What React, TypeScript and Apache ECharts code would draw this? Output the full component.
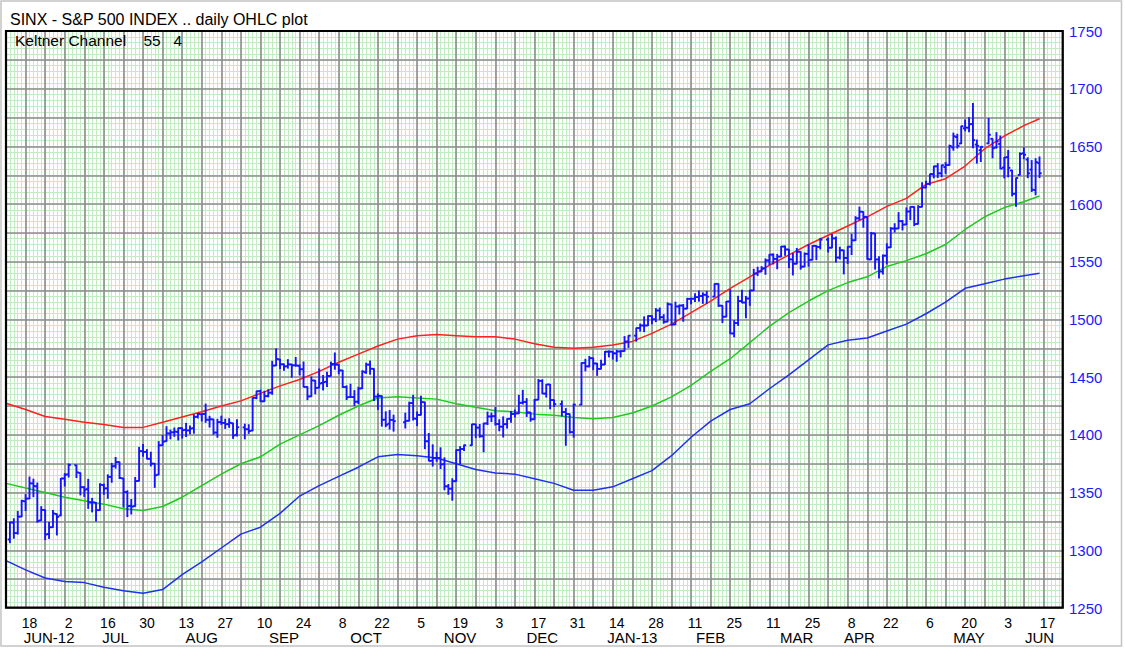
import React, { useEffect, useRef } from 'react';
import * as echarts from 'echarts';

const TITLE = 'SINX - S&P 500 INDEX .. daily OHLC plot';
const SUBTITLE = 'Keltner Channel\u00a0\u00a0\u00a0 55\u00a0\u00a0\u00a04';
const AXIS_START = '2012-06-11';
const AXIS_DAYS = 271;
const Y_MIN = 1250;
const Y_MAX = 1750;
const Y_LABEL_STEP = 50;

// [day, open, high, low, close]
const jun12 = [[12,1309.4,1324.3,1306.6,1324.2],[13,1324.0,1327.3,1310.5,1314.9],[14,1314.9,1333.7,1314.1,1329.1],[15,1329.2,1343.3,1329.2,1342.8],[18,1342.4,1348.2,1334.5,1344.8],[19,1344.8,1363.5,1344.8,1358.0],[20,1358.0,1361.6,1346.5,1355.7],[21,1355.4,1358.3,1324.4,1325.5],[22,1325.9,1337.8,1325.9,1335.0],[25,1334.9,1334.9,1309.3,1313.7],[26,1314.1,1324.2,1310.3,1320.0],[27,1320.0,1334.4,1320.0,1331.9],[28,1331.5,1331.5,1313.3,1329.0],[29,1330.1,1362.2,1330.1,1362.2]];
const jul12 = [[2,1362.3,1366.4,1355.7,1365.5],[3,1365.8,1374.8,1363.5,1374.0],[5,1373.7,1373.9,1363.0,1367.6],[6,1367.1,1367.1,1348.0,1354.7],[9,1354.7,1354.9,1346.7,1352.5],[10,1353.0,1361.5,1336.3,1341.5],[11,1341.4,1345.0,1333.3,1341.5],[12,1341.3,1341.3,1325.4,1334.8],[13,1334.8,1357.7,1334.8,1356.8],[16,1356.5,1357.3,1348.5,1353.6],[17,1353.7,1365.4,1345.1,1363.7],[18,1363.6,1375.3,1359.0,1372.8],[19,1373.0,1380.4,1371.2,1376.5],[20,1376.5,1376.5,1362.2,1362.7],[23,1362.3,1362.3,1337.6,1350.5],[24,1350.5,1351.5,1329.2,1338.3],[25,1338.4,1344.0,1331.5,1337.9],[26,1338.2,1363.1,1338.2,1360.0],[27,1360.1,1389.2,1360.1,1386.0],[30,1385.9,1391.7,1381.4,1385.3],[31,1385.3,1387.2,1379.2,1379.3]];
const aug12 = [[1,1379.3,1385.0,1373.1,1375.1],[2,1375.1,1375.1,1354.6,1365.0],[3,1365.5,1394.2,1365.5,1391.0],[6,1391.0,1399.6,1391.0,1394.2],[7,1394.5,1407.1,1394.5,1401.4],[8,1401.2,1404.1,1396.6,1402.2],[9,1402.3,1406.0,1398.8,1402.8],[10,1402.6,1406.0,1395.6,1405.9],[13,1405.9,1405.9,1397.3,1404.1],[14,1404.4,1410.0,1398.6,1403.9],[15,1403.9,1407.7,1401.0,1405.5],[16,1405.8,1417.4,1401.5,1415.5],[17,1415.8,1418.7,1414.7,1418.2],[20,1417.9,1418.1,1412.1,1418.1],[21,1418.1,1426.7,1410.9,1413.2],[22,1413.1,1416.1,1406.8,1413.5],[23,1413.5,1413.5,1400.5,1402.1],[24,1402.0,1413.5,1398.0,1411.1],[27,1411.1,1416.2,1409.1,1410.4],[28,1410.4,1413.6,1405.6,1409.3],[29,1409.3,1414.0,1406.6,1410.5],[30,1410.1,1410.1,1397.0,1399.5],[31,1400.1,1413.1,1399.0,1406.6]];
const sep12 = [[4,1406.5,1409.3,1396.6,1404.9],[5,1404.9,1408.8,1401.3,1403.4],[6,1403.7,1432.1,1403.7,1432.1],[7,1432.1,1437.9,1431.4,1437.9],[10,1437.9,1438.7,1429.0,1429.1],[11,1429.1,1437.8,1429.1,1433.6],[12,1433.6,1439.2,1433.0,1436.6],[13,1436.6,1463.8,1435.2,1460.0],[14,1460.1,1474.5,1460.1,1465.8],[17,1465.4,1465.6,1457.6,1461.2],[18,1461.2,1461.5,1456.1,1459.3],[19,1459.5,1465.2,1457.9,1461.1],[20,1461.1,1461.2,1450.0,1460.3],[21,1460.3,1467.1,1459.5,1460.2],[24,1459.8,1460.7,1452.1,1456.9],[25,1456.9,1463.2,1441.6,1441.6],[26,1441.6,1441.6,1430.5,1433.3],[27,1433.4,1450.2,1433.4,1447.2],[28,1447.1,1447.1,1435.6,1440.7]];
const oct12 = [[1,1440.9,1457.1,1440.9,1444.5],[2,1445.0,1451.5,1439.0,1445.8],[3,1446.1,1454.3,1442.0,1451.0],[4,1451.1,1463.1,1451.1,1461.4],[5,1461.4,1471.0,1456.9,1460.9],[8,1460.9,1460.9,1453.1,1455.9],[9,1455.9,1455.9,1441.2,1441.5],[10,1441.5,1442.5,1430.6,1432.6],[11,1432.8,1443.9,1432.8,1432.8],[12,1432.8,1438.4,1425.5,1428.6],[15,1428.8,1441.3,1427.2,1440.1],[16,1440.3,1455.5,1440.3,1454.9],[17,1454.2,1462.2,1453.4,1460.9],[18,1460.9,1464.0,1452.6,1457.3],[19,1457.3,1457.3,1429.9,1433.2],[22,1433.2,1435.5,1422.1,1433.8],[23,1433.7,1433.7,1407.6,1413.1],[24,1413.2,1420.0,1407.1,1408.8],[25,1409.7,1421.1,1405.1,1413.0],[26,1413.0,1417.1,1403.3,1411.9],[31,1411.0,1418.8,1406.0,1412.2]];
const nov12 = [[1,1412.2,1428.4,1412.2,1427.6],[2,1427.6,1434.3,1412.9,1414.2],[5,1414.0,1419.9,1408.1,1417.3],[6,1417.3,1433.4,1417.3,1428.4],[7,1428.3,1428.3,1388.1,1394.5],[8,1394.5,1401.2,1377.5,1377.5],[9,1377.6,1391.4,1373.0,1379.9],[12,1379.9,1384.9,1377.2,1380.0],[13,1380.0,1388.8,1370.8,1374.5],[14,1374.6,1380.1,1352.5,1355.5],[15,1355.4,1357.0,1348.5,1353.3],[16,1353.4,1362.0,1343.4,1359.9],[19,1359.9,1386.9,1359.9,1386.9],[20,1386.8,1389.8,1374.8,1387.8],[21,1387.8,1391.3,1386.4,1391.0],[23,1391.0,1409.2,1391.0,1409.2],[26,1409.2,1409.2,1397.7,1406.3],[27,1406.3,1409.0,1398.0,1398.9],[28,1398.8,1410.0,1385.4,1409.9],[29,1410.0,1419.7,1409.0,1416.0],[30,1416.0,1418.9,1411.6,1416.2]];
const dec12 = [[3,1416.3,1423.7,1408.5,1409.5],[4,1409.5,1413.1,1403.6,1407.1],[5,1407.1,1415.6,1398.2,1409.3],[6,1409.4,1414.0,1405.9,1413.9],[7,1414.0,1420.3,1410.9,1418.1],[10,1418.1,1421.6,1415.6,1418.6],[11,1418.6,1434.3,1418.6,1427.8],[12,1427.8,1438.6,1426.8,1428.5],[13,1428.5,1431.4,1416.0,1419.5],[14,1419.5,1419.5,1411.9,1413.6],[17,1413.5,1430.7,1413.5,1430.4],[18,1430.5,1448.0,1430.5,1446.8],[19,1446.8,1447.8,1435.8,1435.8],[20,1435.8,1443.7,1432.8,1443.7],[21,1443.7,1443.7,1422.6,1430.2],[24,1430.2,1430.2,1424.7,1426.7],[26,1426.7,1429.4,1416.4,1419.8],[27,1419.8,1422.8,1391.0,1418.1],[28,1418.1,1418.1,1401.6,1402.4],[31,1402.4,1426.7,1398.1,1426.2]];
const jan13 = [[2,1426.2,1462.4,1426.2,1462.4],[3,1462.4,1465.5,1455.5,1459.4],[4,1459.4,1467.9,1459.0,1466.5],[7,1466.5,1466.5,1456.6,1461.9],[8,1461.9,1461.9,1451.6,1457.2],[9,1457.2,1464.7,1457.2,1461.0],[10,1461.0,1472.3,1461.0,1472.1],[11,1472.1,1472.8,1467.6,1472.1],[14,1472.1,1472.1,1465.7,1470.7],[15,1470.7,1473.3,1463.8,1472.3],[16,1472.3,1473.0,1467.6,1472.6],[17,1472.6,1485.2,1472.6,1480.9],[18,1480.9,1486.0,1475.8,1486.0],[22,1486.0,1492.6,1481.2,1492.6],[23,1492.6,1496.1,1489.9,1494.8],[24,1494.8,1502.3,1489.5,1494.8],[25,1494.8,1503.3,1494.8,1503.0],[28,1503.0,1503.2,1496.3,1500.2],[29,1500.2,1509.4,1498.1,1507.8],[30,1507.8,1509.9,1500.1,1502.0],[31,1502.0,1504.2,1496.8,1498.1]];
const feb13 = [[1,1498.1,1514.4,1498.1,1513.2],[4,1513.2,1513.2,1495.0,1495.7],[5,1495.7,1515.0,1495.7,1511.3],[6,1511.3,1512.5,1504.7,1512.1],[7,1512.1,1512.9,1498.5,1509.4],[8,1509.4,1518.3,1509.4,1517.9],[11,1517.9,1518.3,1513.6,1518.0],[12,1518.0,1522.3,1515.6,1519.4],[13,1519.4,1524.7,1515.9,1520.3],[14,1520.3,1523.1,1514.0,1521.4],[15,1521.4,1524.2,1514.1,1519.8],[19,1519.8,1530.9,1519.8,1530.9],[20,1530.9,1530.9,1511.4,1512.0],[21,1512.0,1512.0,1497.3,1502.4],[22,1502.4,1515.6,1502.4,1515.6],[25,1515.6,1525.8,1487.9,1487.9],[26,1487.9,1499.0,1485.0,1496.9],[27,1496.9,1520.1,1494.9,1516.0],[28,1516.0,1525.3,1514.5,1514.7]];
const mar13 = [[1,1514.7,1520.0,1501.5,1518.2],[4,1518.2,1525.3,1512.3,1525.2],[5,1525.2,1543.5,1525.2,1539.8],[6,1539.8,1545.3,1538.1,1541.5],[7,1541.5,1545.8,1541.5,1544.3],[8,1544.3,1552.5,1539.2,1551.2],[11,1551.2,1556.3,1547.4,1556.2],[12,1556.2,1556.8,1548.2,1552.5],[13,1552.5,1556.4,1544.0,1554.5],[14,1554.5,1563.3,1554.5,1563.2],[15,1563.2,1563.6,1555.7,1560.7],[18,1560.7,1560.7,1545.1,1552.1],[19,1552.1,1557.3,1538.6,1548.3],[20,1548.3,1561.6,1548.3,1558.7],[21,1558.7,1558.7,1543.6,1545.8],[22,1545.8,1557.7,1545.8,1556.9],[25,1556.9,1564.9,1546.2,1551.7],[26,1551.7,1564.0,1551.7,1563.8],[27,1563.8,1564.0,1551.9,1562.9],[28,1562.9,1570.3,1561.1,1569.2]];
const apr13 = [[1,1569.2,1570.6,1558.5,1562.2],[2,1562.2,1573.7,1562.2,1570.3],[3,1570.3,1571.5,1549.8,1553.7],[4,1553.7,1562.6,1552.5,1560.0],[5,1560.0,1560.0,1539.5,1553.3],[8,1553.3,1563.1,1548.6,1563.1],[9,1563.1,1573.9,1556.3,1568.6],[10,1568.6,1589.1,1568.6,1587.7],[11,1587.7,1597.4,1586.2,1593.4],[12,1593.3,1593.3,1580.0,1588.9],[15,1588.9,1588.9,1552.3,1552.4],[16,1552.0,1575.4,1552.0,1574.6],[17,1574.6,1574.6,1543.7,1552.0],[18,1552.0,1554.4,1536.0,1541.6],[19,1541.6,1555.9,1539.4,1555.3],[22,1555.3,1565.6,1548.2,1562.5],[23,1562.5,1579.6,1562.5,1578.8],[24,1578.8,1583.0,1575.8,1578.8],[25,1578.8,1592.6,1578.8,1585.2],[26,1585.2,1585.8,1577.6,1582.2],[29,1582.3,1596.7,1582.3,1593.6],[30,1593.6,1597.6,1586.5,1597.6]];
const may13 = [[1,1597.6,1597.6,1581.3,1582.7],[2,1582.8,1598.6,1582.8,1597.6],[3,1597.6,1618.5,1597.6,1614.4],[6,1614.4,1619.8,1614.2,1617.5],[7,1617.6,1626.0,1616.6,1626.0],[8,1626.0,1632.8,1622.7,1632.7],[9,1632.7,1635.0,1623.1,1626.7],[10,1626.7,1633.7,1623.7,1633.7],[13,1632.1,1636.0,1626.7,1633.8],[14,1633.8,1651.1,1633.8,1650.3],[15,1649.1,1661.5,1646.7,1658.8],[16,1658.1,1660.5,1648.6,1650.5],[17,1652.5,1667.5,1652.5,1667.5],[20,1665.7,1672.8,1663.5,1666.3],[21,1666.2,1674.9,1662.7,1669.2],[22,1669.4,1687.2,1648.9,1655.4],[23,1651.6,1655.5,1635.5,1650.5],[24,1646.7,1649.8,1636.9,1649.6],[28,1652.6,1674.2,1652.6,1660.1],[29,1656.6,1656.6,1640.1,1648.4],[30,1649.1,1661.9,1648.6,1654.4],[31,1652.1,1659.0,1630.7,1630.7]];
const jun13 = [[3,1631.7,1640.4,1622.7,1640.4],[4,1640.7,1646.5,1623.6,1631.4],[5,1629.1,1629.3,1607.1,1608.9],[6,1609.0,1622.6,1598.2,1622.6],[7,1625.3,1644.4,1625.3,1643.4],[10,1644.0,1648.7,1639.3,1642.8],[11,1638.6,1640.1,1622.9,1626.7],[12,1629.9,1637.7,1610.9,1612.5],[13,1612.2,1639.3,1608.1,1636.4],[14,1635.5,1640.8,1623.0,1626.7]];

const ohlcMonths: [string, number[][]][] = [
  ['2012-06', jun12], ['2012-07', jul12], ['2012-08', aug12], ['2012-09', sep12],
  ['2012-10', oct12], ['2012-11', nov12], ['2012-12', dec12], ['2013-01', jan13],
  ['2013-02', feb13], ['2013-03', mar13], ['2013-04', apr13], ['2013-05', may13],
  ['2013-06', jun13],
];

// Keltner channel lines, read at each Monday slot and at the last bar
const bandDates = [
  '2012-06-11','2012-06-18','2012-06-25','2012-07-02','2012-07-09','2012-07-16','2012-07-23','2012-07-30',
  '2012-08-06','2012-08-13','2012-08-20','2012-08-27','2012-09-03','2012-09-10','2012-09-17','2012-09-24',
  '2012-10-01','2012-10-08','2012-10-15','2012-10-22','2012-10-29','2012-11-05','2012-11-12','2012-11-19',
  '2012-11-26','2012-12-03','2012-12-10','2012-12-17','2012-12-24','2012-12-31','2013-01-07','2013-01-14',
  '2013-01-21','2013-01-28','2013-02-04','2013-02-11','2013-02-18','2013-02-25','2013-03-04','2013-03-11',
  '2013-03-18','2013-03-25','2013-04-01','2013-04-08','2013-04-15','2013-04-22','2013-04-29','2013-05-06',
  '2013-05-13','2013-05-20','2013-05-27','2013-06-03','2013-06-10','2013-06-14',
];
const upperBand = [1427.5,1422,1416,1413.5,1411,1409,1406.5,1406.5,1411,1415.5,1420,1425,1429.5,1436,1442.5,1448,1455,1463,1470,1477,1483,1486,1487,1486,1485,1485,1483,1479,1476,1475,1476,1478,1481,1488,1496,1506,1516,1527,1537,1547,1556,1565,1573,1581,1589,1598,1605,1617,1622,1633,1648,1659,1668,1674];
const middleBand = [1358,1354,1350,1346,1343,1340,1336,1334.5,1338,1346,1356,1366,1375,1381,1392,1400,1408,1417,1425,1432,1433,1432,1431,1427,1424,1421,1420,1418,1417,1415,1414,1415,1419,1425,1433,1443,1455,1466,1480,1494,1506,1516,1525,1532,1537,1546,1551,1557,1565,1578,1589,1597,1602,1607];
const lowerBand = [1291,1283,1276,1273,1272,1268,1265,1262.7,1266,1279,1290,1302,1314,1320,1332,1347,1356,1364,1372,1381,1383,1382,1380,1375,1370,1367,1366,1362,1358,1352,1352,1355,1362,1369,1382,1398,1412,1422,1427,1440,1452,1465,1478,1482,1484,1490,1496,1505,1515,1527,1531,1535,1538,1540];

const monthLabels: [string, string][] = [
  ['2012-06-26', 'JUN-12'], ['2012-07-19', 'JUL'], ['2012-08-20', 'AUG'], ['2012-09-18', 'SEP'],
  ['2012-10-17', 'OCT'], ['2012-11-20', 'NOV'], ['2012-12-19', 'DEC'], ['2013-01-21', 'JAN-13'],
  ['2013-02-18', 'FEB'], ['2013-03-20', 'MAR'], ['2013-04-11', 'APR'], ['2013-05-21', 'MAY'],
  ['2013-06-14', 'JUN'],
];

const COLORS = {
  bar: '#1414ff',
  upper: '#ff2020',
  middle: '#20c820',
  lower: '#2030f0',
  major: '#8c8c8c',
  minor: '#c2ecc2',
  yLabel: '#1a1aff',
};

function buildWeekdays(): string[] {
  const out: string[] = [];
  const d = new Date(AXIS_START + 'T00:00:00Z');
  while (out.length < AXIS_DAYS) {
    const wd = d.getUTCDay();
    if (wd !== 0 && wd !== 6) out.push(d.toISOString().slice(0, 10));
    d.setUTCDate(d.getUTCDate() + 1);
  }
  return out;
}

export default function App() {
  const ref = useRef<HTMLDivElement>(null);
  useEffect(() => {
    document.body.style.margin = '0';
    if (!ref.current) return;
    const chart = echarts.init(ref.current, undefined, { renderer: 'svg' });
    const days = buildWeekdays();
    const idx = new Map(days.map((s, i) => [s, i] as [string, number]));
    const ohlc: number[][] = [];
    ohlcMonths.forEach(([ym, rows]) => {
      rows.forEach((r) => {
        const key = `${ym}-${String(r[0]).padStart(2, '0')}`;
        const i = idx.get(key);
        if (i !== undefined) ohlc.push([i, r[1], r[2], r[3], r[4]]);
      });
    });
    const band = (vals: number[]) => bandDates.map((d, k) => [idx.get(d) as number, vals[k]]);
    const monthMap = new Map(monthLabels);
    const isMonday = (v: string) => new Date(v + 'T00:00:00Z').getUTCDay() === 1;
    const dayLabelSet = new Set(days.filter((v, i) => isMonday(v) && Math.round(i / 5) % 2 === 1));
    const bandLine = (vals: number[], color: string) => ({
      type: 'line', data: band(vals), showSymbol: false, z: 3,
      lineStyle: { color, width: 1.5 },
    });

    const option: any = {
      animation: false,
      textStyle: { fontFamily: 'Liberation Sans, Arial, sans-serif' },
      title: [
        { text: TITLE, left: 10, top: 11, padding: 0, textStyle: { fontSize: 16, fontWeight: 'normal', color: '#000' } },
        { text: SUBTITLE, left: 15, top: 32, padding: 0, textStyle: { fontSize: 15.5, fontWeight: 'normal', color: '#000' } },
      ],
      grid: { left: 6, right: 62, top: 31, bottom: 41, containLabel: false },
      xAxis: [
        {
          type: 'category', data: days, boundaryGap: false, position: 'bottom', z: 1,
          axisLine: { show: false }, axisTick: { show: false },
          axisLabel: {
            interval: (i: number, v: string) => dayLabelSet.has(v),
            formatter: (v: string) => String(Number(v.slice(8))),
            fontSize: 14, lineHeight: 13, color: '#000', margin: 8, padding: [0, 0, 0, 8],
          },
          splitLine: { show: true, interval: (i: number, v: string) => isMonday(v), lineStyle: { color: COLORS.major, width: 1.6 } },
        },
        {
          type: 'category', data: days, boundaryGap: false, position: 'bottom', z: 0,
          axisLine: { show: false }, axisTick: { show: false },
          axisLabel: {
            interval: (i: number, v: string) => monthMap.has(v),
            formatter: (v: string) => monthMap.get(v) || '',
            fontSize: 15, lineHeight: 14, color: '#000', margin: 22.5,
          },
          splitLine: { show: true, interval: 0, lineStyle: { color: COLORS.minor, width: 1 } },
        },
      ],
      yAxis: [
        {
          type: 'value', min: Y_MIN, max: Y_MAX, interval: 25, position: 'right', z: 1,
          axisLine: { show: false }, axisTick: { show: false },
          axisLabel: { formatter: (v: number) => (v % Y_LABEL_STEP === 0 ? String(v) : ''), color: COLORS.yLabel, fontSize: 15, margin: 6 },
          splitLine: { show: true, lineStyle: { color: COLORS.major, width: 1.6 } },
        },
        {
          type: 'value', min: Y_MIN, max: Y_MAX, interval: 5, position: 'right', z: 0,
          axisLine: { show: false }, axisTick: { show: false }, axisLabel: { show: false },
          splitLine: { show: true, lineStyle: { color: COLORS.minor, width: 1 } },
        },
      ],
      series: [
        bandLine(upperBand, COLORS.upper),
        bandLine(middleBand, COLORS.middle),
        bandLine(lowerBand, COLORS.lower),
        {
          type: 'custom', z: 4, data: ohlc, encode: { x: 0, y: [1, 2, 3, 4] },
          renderItem: (params: any, api: any) => {
            const x = api.value(0);
            const pO = api.coord([x, api.value(1)]);
            const pH = api.coord([x, api.value(2)]);
            const pL = api.coord([x, api.value(3)]);
            const pC = api.coord([x, api.value(4)]);
            const w = 2.2;
            const st = { stroke: COLORS.bar, lineWidth: 1.9 };
            return {
              type: 'group',
              children: [
                { type: 'line', shape: { x1: pH[0], y1: pH[1] - 0.5, x2: pL[0], y2: pL[1] + 0.5 }, style: st },
                { type: 'line', shape: { x1: pO[0] - w, y1: pO[1], x2: pO[0], y2: pO[1] }, style: st },
                { type: 'line', shape: { x1: pC[0], y1: pC[1], x2: pC[0] + w, y2: pC[1] }, style: st },
              ],
            };
          },
        },
      ],
      graphic: [
        { type: 'rect', z: 100, shape: { x: 6, y: 31, width: 1056.7, height: 576.7 }, style: { fill: 'none', stroke: '#000', lineWidth: 2.2 } },
        { type: 'rect', z: 100, shape: { x: 1, y: 1, width: 1120.5, height: 645 }, style: { fill: 'none', stroke: '#c4c4c4', lineWidth: 1.5 } },
      ],
    };
    chart.setOption(option);
    return () => chart.dispose();
  }, []);
  return <div ref={ref} style={{ width: 1125, height: 649 }} />;
}
